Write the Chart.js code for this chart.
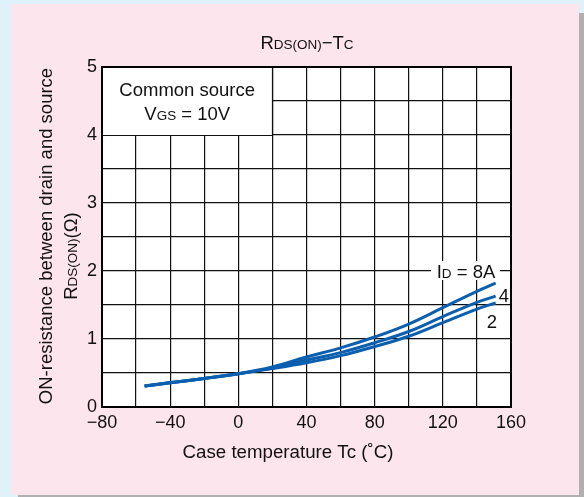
<!DOCTYPE html>
<html>
<head>
<meta charset="utf-8">
<script src="https://cdn.jsdelivr.net/npm/chart.js@4"></script>
<style>
  html, body { margin: 0; padding: 0; background: #dff2fa; }
  #chart { display: block; }
</style>
</head>
<body>
<canvas id="chart" width="584" height="497"></canvas>
<script>
// case temperature (°C)
var temps = [-55, -40, -20, 0, 20, 40, 60, 80, 100, 120, 140, 151];
// RDS(ON) (ohm) per drain current
var id8 = [0.31, 0.36, 0.42, 0.49, 0.59, 0.735, 0.87, 1.03, 1.22, 1.46, 1.70, 1.82];
var id4 = [0.31, 0.355, 0.42, 0.49, 0.575, 0.69, 0.80, 0.945, 1.11, 1.33, 1.54, 1.63];
var id2 = [0.31, 0.355, 0.42, 0.49, 0.565, 0.65, 0.755, 0.89, 1.04, 1.24, 1.44, 1.53];
var seriesNames = ["8A", "4", "2"];

var FONT = '"Liberation Sans", Arial, sans-serif';
var BLUE = '#0b5fae';

function points(vals){
    return temps.map((t, i) => ({x: t, y: vals[i]}));
}

// draw text made of runs [text, size], centred on cx, baseline y
function drawRuns(ctx, runs, cx, y){
    var w = 0;
    runs.forEach(r => {
        ctx.font = r[1] + 'px ' + FONT;
        w += ctx.measureText(r[0]).width;
    });
    var x = cx - w / 2;
    ctx.textAlign = 'left';
    ctx.textBaseline = 'alphabetic';
    runs.forEach(r => {
        ctx.font = r[1] + 'px ' + FONT;
        ctx.fillText(r[0], x, y);
        x += ctx.measureText(r[0]).width;
    });
    return w;
}

const decor = {
    id: 'decor',
    beforeDraw(chart){
        var ctx = chart.ctx;
        var a = chart.chartArea;
        ctx.save();
        ctx.fillStyle = '#dff2fa';
        ctx.fillRect(0, 0, 584, 497);
        ctx.fillStyle = '#b0b0b0';
        ctx.fillRect(18, 13, 566, 484);
        ctx.fillStyle = '#fde5ee';
        ctx.fillRect(11, 4, 568, 491);
        ctx.fillStyle = '#ffffff';
        ctx.fillRect(a.left, a.top, a.right - a.left, a.bottom - a.top);
        ctx.restore();
    },
    beforeDatasetsDraw(chart){
        var ctx = chart.ctx;
        var xs = chart.scales.x, ys = chart.scales.y;
        var l = xs.getPixelForValue(-80), r = xs.getPixelForValue(20);
        var t = ys.getPixelForValue(5), b = ys.getPixelForValue(4);
        ctx.save();
        ctx.fillStyle = '#ffffff';
        ctx.fillRect(l, t, r - l, b - t);
        ctx.strokeStyle = '#111';
        ctx.lineWidth = 1.2;
        ctx.beginPath();
        ctx.moveTo(Math.round(r) + 0.5, t);
        ctx.lineTo(Math.round(r) + 0.5, b);
        ctx.moveTo(l, Math.round(b) + 0.5);
        ctx.lineTo(r, Math.round(b) + 0.5);
        ctx.stroke();
        ctx.fillStyle = '#111';
        drawRuns(ctx, [['Common source', 18.5]], (l + r) / 2, 96);
        drawRuns(ctx, [['V', 18.5], ['GS', 13.5], [' = 10V', 18.5]], (l + r) / 2, 120);
        ctx.restore();
    },
    afterDatasetsDraw(chart){
        var ctx = chart.ctx;
        var a = chart.chartArea;
        ctx.save();
        // plot frame
        ctx.strokeStyle = '#000';
        ctx.lineWidth = 2;
        ctx.strokeRect(a.left, a.top, a.right - a.left, a.bottom - a.top);

        // series labels
        ctx.fillStyle = '#ffffff';
        ctx.fillRect(431, 261, 69, 19);
        ctx.fillStyle = '#111';
        drawRuns(ctx, [['I', 18.5], ['D', 13.5], [' = ' + seriesNames[0], 18.5]], 466, 277.5);
        drawRuns(ctx, [[seriesNames[1], 18.5]], 504, 302);
        drawRuns(ctx, [[seriesNames[2], 18.5]], 492, 328);

        // title
        drawRuns(ctx, [['R', 18.5], ['DS(ON)', 13.5], ['\u2212T', 18.5], ['C', 13.5]], 307, 49);

        // x axis title
        drawRuns(ctx, [['Case temperature Tc (\u02DAC)', 18.7]], 288, 458);

        // y axis title
        ctx.translate(45, 236);
        ctx.rotate(-Math.PI / 2);
        drawRuns(ctx, [['ON-resistance between drain and source', 18.5]], 0, 6.5);
        ctx.rotate(Math.PI / 2);
        ctx.translate(25, 20);
        ctx.rotate(-Math.PI / 2);
        drawRuns(ctx, [['R', 18.5], ['DS(ON)', 13.5], ['(\u03A9)', 18.5]], 0, 6.5);
        ctx.restore();
    }
};

function lineSet(label, vals){
    return {
        label: label,
        data: points(vals),
        borderColor: BLUE,
        borderWidth: 3,
        pointRadius: 0,
        fill: false,
        tension: 0.4
    };
}

const chart = new Chart(document.getElementById('chart'), {
    type: 'line',
    data: {
        datasets: [
            lineSet('8A', id8),
            lineSet('4A', id4),
            lineSet('2A', id2)
        ]
    },
    plugins: [decor],
    options: {
        responsive: false,
        devicePixelRatio: 1,
        animation: false,
        layout: { padding: { left: 0, top: 67, right: 73, bottom: 0 } },
        plugins: {
            legend: { display: false },
            title: { display: false },
            tooltip: { enabled: false }
        },
        scales: {
            x: {
                type: 'linear',
                min: -80,
                max: 160,
                afterFit: s => { s.height = 90; },
                border: { display: false },
                grid: { color: '#111', lineWidth: 1.2, drawTicks: false },
                ticks: {
                    stepSize: 20,
                    padding: 5,
                    color: '#111',
                    maxRotation: 0,
                    autoSkip: false,
                    font: { family: FONT, size: 18 },
                    callback: v => v % 40 === 0 ? String(v).replace('-', '\u2212') : ''
                }
            },
            y: {
                min: 0,
                max: 5,
                afterFit: s => { s.width = 102; },
                border: { display: false },
                grid: { color: '#111', lineWidth: 1.2, drawTicks: false },
                ticks: {
                    stepSize: 0.5,
                    padding: 5,
                    color: '#111',
                    autoSkip: false,
                    font: { family: FONT, size: 18 },
                    callback: v => Number.isInteger(v) ? String(v) : ''
                }
            }
        }
    }
});
</script>
</body>
</html>
